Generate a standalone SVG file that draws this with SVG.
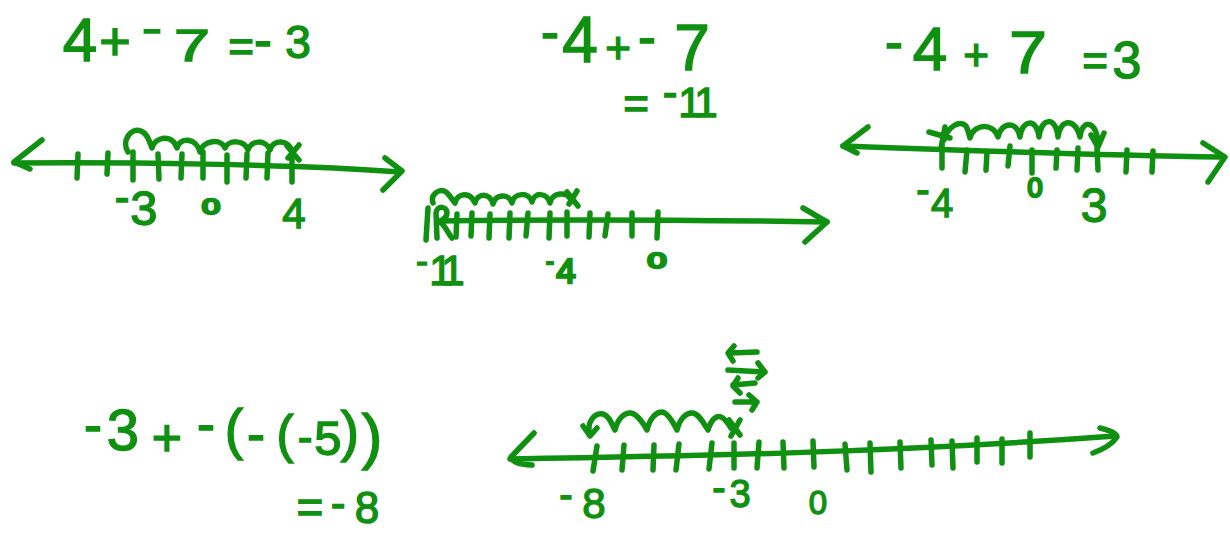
<svg xmlns="http://www.w3.org/2000/svg" width="1230" height="533" viewBox="0 0 1230 533">
<style>
.s{fill:none;stroke:#109010;stroke-width:5.5;stroke-linecap:round;stroke-linejoin:round}
.t{font-family:"Liberation Sans",Arial,sans-serif;fill:#109010;stroke:#109010;stroke-width:1.4;text-anchor:middle}
.sm{stroke-width:2.6}
</style>
<rect width="1230" height="533" fill="#ffffff"/>

<g id="problem1">
  <text id="eq1" class="t"><tspan x="80" y="61" font-size="62">4</tspan><tspan x="115" y="60" font-size="54">+</tspan><tspan x="152" y="42" font-size="40" textLength="20" lengthAdjust="spacingAndGlyphs">-</tspan><tspan x="192" y="61" font-size="44" textLength="36" lengthAdjust="spacingAndGlyphs">7</tspan><tspan x="241" y="62" font-size="44">=</tspan><tspan x="263" y="58" font-size="54">-</tspan><tspan x="298" y="58" font-size="46">3</tspan></text>
  <g id="line1">
    <path class="s" d="M14,163 C120,162 290,164 400,172"/>
    <path class="s" d="M42,140 L14,162 L30,169"/>
    <path class="s" d="M385,158 L402,171 L383,190"/>
    <path class="s" d="M78,154 L77,178 M108,153 L107,174 M133,152 L133,180 M158,154 L159,179 M182,154 L181,178 M203,152 L203,178 M227,155 L227,182 M247,154 L246,178 M268,153 L267,178 M292,152 L292,182"/>
    <path class="s" d="M128,152 C121,141 131,127 141,131 C148,134 150,143 152,148 C155,137 172,133 177,148 C180,137 196,137 200,152 C203,140 221,138 225,148 C228,140 244,139 248,150 C251,140 266,139 270,150 C273,139 289,139 292,152"/>
    <path class="s" d="M287,146 L299,160 M299,145 L288,158"/>
    <text class="t"><tspan x="122" y="212" font-size="44">-</tspan><tspan x="144" y="225" font-size="49">3</tspan></text>
    <text class="t sm" x="211" y="214" font-size="22" textLength="18" lengthAdjust="spacingAndGlyphs">0</text>
    <text class="t" x="294" y="228" font-size="42">4</text>
  </g>
</g>

<g id="problem2">
  <text id="eq2" class="t"><tspan x="550" y="50" font-size="54">-</tspan><tspan x="580" y="62" font-size="64">4</tspan><tspan x="618" y="63" font-size="44">+</tspan><tspan x="647" y="55" font-size="54">-</tspan><tspan x="692" y="70" font-size="64">7</tspan><tspan x="636" y="119" font-size="44">=</tspan><tspan x="670" y="107" font-size="44">-</tspan><tspan x="690 706" y="117" font-size="42">11</tspan></text>
  <g id="line2">
    <path class="s" d="M428,208 L426,240"/>
    <path class="s" d="M438,221 C560,219 700,220 827,222"/>
    <path class="s" d="M803,208 L827,222 L805,242"/>
    <path class="s" d="M437,238 L436,213 C437,205 447,206 447,213 C447,219 441,220 440,222 C446,226 448,234 452,238"/>
    <path class="s" d="M457,214 L456,237 M472,213 L471,236 M490,214 L489,238 M510,213 L509,238 M528,213 L526,236 M550,213 L549,238 M567,212 L567,236 M590,213 L589,237 M608,214 L605,236 M632,213 L632,236 M658,212 L657,238"/>
    <path class="s" d="M433,203 C430,194 440,188 446,192 C450,195 452,200 455,203 C457,193 470,191 475,203 C477,193 490,192 493,204 C495,194 509,193 512,203 C514,192 529,192 532,202 C534,192 547,192 550,203 C552,192 567,191 571,200"/>
    <path class="s" d="M567,192 L578,206 M577,191 L569,204"/>
    <text class="t"><tspan x="422" y="273" font-size="36">-</tspan><tspan x="441 453" y="285" font-size="42">11</tspan></text>
    <text class="t sm"><tspan x="550" y="269" font-size="22">-</tspan><tspan x="566" y="283" font-size="35">4</tspan></text>
    <text class="t sm" x="657" y="268" font-size="22" textLength="19" lengthAdjust="spacingAndGlyphs">0</text>
  </g>
</g>

<g id="problem3">
  <text id="eq3" class="t"><tspan x="894" y="60" font-size="54">-</tspan><tspan x="930" y="70" font-size="62">4</tspan><tspan x="976" y="70" font-size="44">+</tspan><tspan x="1028" y="73" font-size="60" textLength="38" lengthAdjust="spacingAndGlyphs">7</tspan><tspan x="1095" y="76" font-size="44">=</tspan><tspan x="1127" y="78" font-size="52">3</tspan></text>
  <g id="line3">
    <path class="s" d="M843,146 C950,150 1100,155 1223,157"/>
    <path class="s" d="M868,127 L843,146 L857,153"/>
    <path class="s" d="M1203,143 L1225,157 L1208,182"/>
    <path class="s" d="M942,145 L942,168 M967,150 L965,172 M987,152 L986,170 M1010,146 L1008,166 M1032,150 L1032,173 M1057,150 L1056,168 M1078,148 L1077,170 M1097,148 L1098,170 M1127,150 L1126,172 M1153,151 L1152,172"/>
    <path class="s" d="M929,132 L950,138 M945,127 L941,148"/>
    <path class="s" d="M944,140 C948,126 960,120 966,126 C968,130 969,134 970,138 C973,124 993,122 998,137 C1001,122 1017,120 1020,137 C1022,119 1037,118 1039,137 C1041,117 1056,116 1058,137 C1060,118 1076,118 1080,137 C1082,118 1098,120 1098,146"/>
    <path class="s" d="M1091,135 L1098,147 L1104,133"/>
    <text class="t"><tspan x="923" y="203" font-size="40">-</tspan><tspan x="942" y="217" font-size="40">4</tspan></text>
    <text class="t sm" x="1035" y="197" font-size="27">0</text>
    <text class="t" x="1094" y="222" font-size="48">3</text>
  </g>
</g>

<g id="problem4">
  <text id="eq4" class="t"><tspan x="93" y="443" font-size="54">-</tspan><tspan x="123" y="450" font-size="58">3</tspan><tspan x="167" y="456" font-size="52">+</tspan><tspan x="206" y="442" font-size="54">-</tspan><tspan x="234" y="448" font-size="55">(</tspan><tspan x="256" y="452" font-size="54">-</tspan><tspan x="285" y="452" font-size="51">(</tspan><tspan x="305" y="452" font-size="44">-</tspan><tspan x="328" y="455" font-size="49">5</tspan><tspan x="350" y="450" font-size="55">)</tspan><tspan x="372" y="457" font-size="62">)</tspan></text>
  <text id="eq4b" class="t"><tspan x="310" y="523" font-size="46">=</tspan><tspan x="338" y="518" font-size="44">-</tspan><tspan x="367" y="523" font-size="44">8</tspan></text>
  <g id="line4">
    <path class="s" d="M510,459 C700,456 900,452 1115,436"/>
    <path class="s" d="M534,433 L511,457 Q512,464 532,465"/>
    <path class="s" d="M1100,428 Q1117,432 1117,437 Q1110,447 1093,453"/>
    <path class="s" d="M597,446 L593,471 M624,445 L622,470 M654,445 L653,470 M679,444 L676,470 M712,443 L709,469 M734,443 L734,468 M759,442 L757,468 M783,442 L784,468 M813,441 L814,467 M845,444 L847,470 M870,443 L871,472 M900,442 L901,468 M931,440 L932,465 M952,441 L953,468 M977,438 L977,462 M1002,439 L1002,463 M1030,433 L1030,457"/>
    <path class="s" d="M590,434 C586,424 594,412 603,414 C610,416 612,425 615,430 C618,418 625,412 631,413 C637,414 644,424 647,430 C650,418 656,412 662,412 C668,413 674,424 677,430 C680,418 687,412 693,413 C699,414 704,424 708,430 C711,420 716,415 721,417 C726,419 728,424 731,428"/>
    <path class="s" d="M583,426 L590,436 L597,428"/>
    <path class="s" d="M729,420 L740,435 M740,420 L731,436"/>
    <path class="s" d="M757,352 L730,353 M734,346 L728,353 L733,361"/>
    <path class="s" d="M728,370 L765,372 M758,363 L765,372 L758,378"/>
    <path class="s" d="M755,383 L733,385 M738,378 L733,386 L740,393"/>
    <path class="s" d="M735,402 L757,402 M749,395 L757,402 L752,410"/>
    <text class="t"><tspan x="566" y="508" font-size="40">-</tspan><tspan x="594" y="518" font-size="42">8</tspan></text>
    <text class="t"><tspan x="719" y="501" font-size="40">-</tspan><tspan x="740" y="507" font-size="38">3</tspan></text>
    <text class="t" x="818" y="514" font-size="33">0</text>
  </g>
</g>
</svg>
